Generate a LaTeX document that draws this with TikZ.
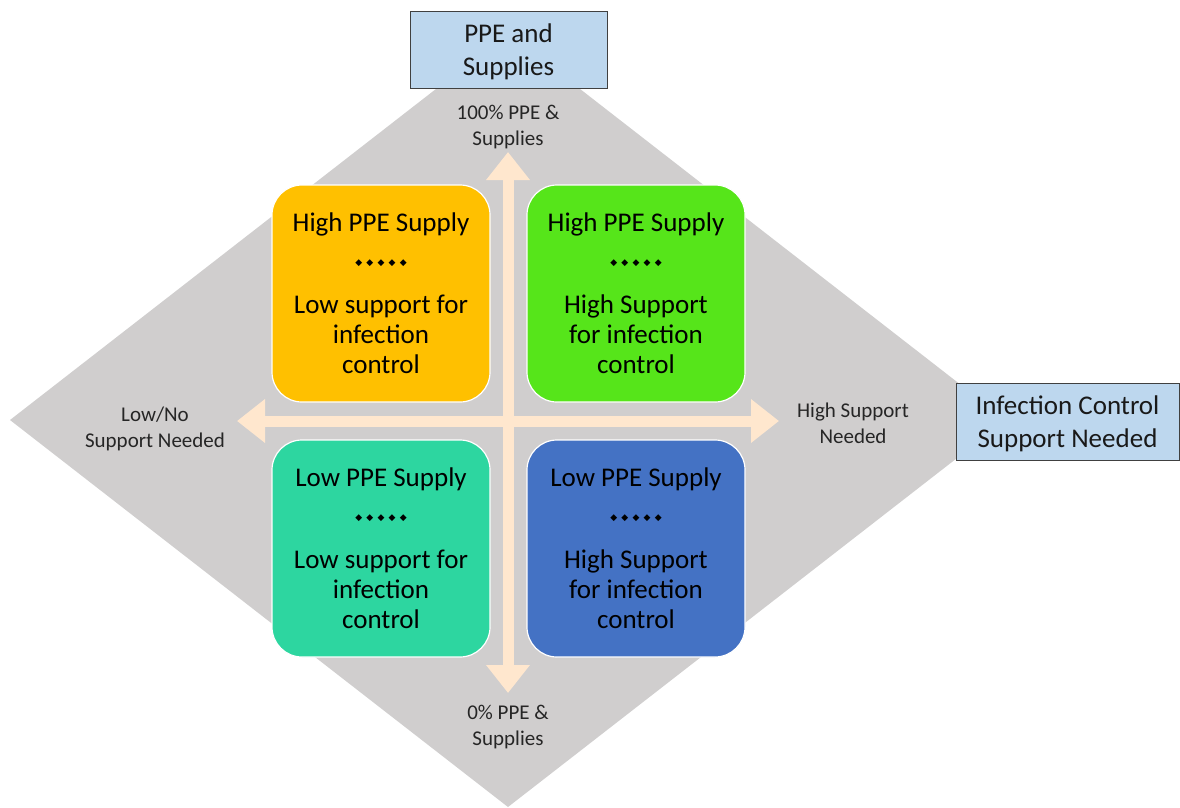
\documentclass[tikz,border=0pt]{standalone}
\usepackage{fontspec}
\setmainfont{Carlito}
\newfontfamily\symfont{DejaVu Sans}
\usetikzlibrary{arrows.meta}

\definecolor{diamondgrey}{HTML}{D0CECE}
\definecolor{axispeach}{HTML}{FFE7CE}
\definecolor{headblue}{HTML}{BDD7EE}
\definecolor{qorange}{HTML}{FFC000}
\definecolor{qgreen}{HTML}{56E51A}
\definecolor{qteal}{HTML}{2DD6A0}
\definecolor{qblue}{HTML}{4472C4}

% row of five small diamond separators
\newcommand\dotrow{{\symfont\fontsize{9}{9}\selectfont
  ◆\kern4.2pt◆\kern4.2pt◆\kern4.2pt◆\kern4.2pt◆}}
% two centred lines, set a little low in their box
\newcommand\twolines[2]{\raisebox{-3pt}[\height][\depth]{\begin{tabular}{@{}c@{}}#1\\#2\end{tabular}}}

\begin{document}
\begin{tikzpicture}[x=1pt,y=-1pt,
  quadbox/.style={rounded corners=30pt, draw=white, line width=1.2pt,
    minimum width=218pt, minimum height=217pt, inner sep=0pt,
    align=center, text=black, font=\fontsize{27}{30}\selectfont},
  headbox/.style={draw=black!75, line width=0.9pt, fill=headblue,
    align=center, inner sep=0pt, text=black!90,
    font=\fontsize{27}{33}\selectfont},
  axislabel/.style={align=center, text=black!85, inner sep=0pt,
    font=\fontsize{21}{26}\selectfont},
  axis/.style={draw=axispeach, line width=11pt,
    {Triangle[width=42pt,length=28pt]}-{Triangle[width=42pt,length=28pt]}}
]
\useasboundingbox (0,0) rectangle (1180,808);

% background diamond
\fill[diamondgrey] (508,33) -- (1006,420) -- (508,807) -- (10,420) -- cycle;

% axis end points
\coordinate (ytop) at (508,152);
\coordinate (ybot) at (508,693);
\coordinate (xleft) at (237,421);
\coordinate (xright) at (779,421);

% quadrants
\node[quadbox, fill=qorange] (hl) at (381,293.5)
  {High PPE Supply\\[4pt]\dotrow\\[18pt]Low support for\\infection\\control};
\node[quadbox, fill=qgreen] (hh) at (636,293.5)
  {High PPE Supply\\[4pt]\dotrow\\[18pt]High Support\\for infection\\control};
\node[quadbox, fill=qteal] (ll) at (381,548.5)
  {Low PPE Supply\\[4pt]\dotrow\\[18pt]Low support for\\infection\\control};
\node[quadbox, fill=qblue] (lh) at (636,548.5)
  {Low PPE Supply\\[4pt]\dotrow\\[18pt]High Support\\for infection\\control};

% axes
\draw[axis] (ybot) -- (ytop);
\draw[axis] (xleft) -- (xright);

% axis end labels
\node[axislabel] (ltop) at (508,127) {100\% PPE \&\\Supplies};
\node[axislabel] (lbot) at (508,727) {0\% PPE \&\\Supplies};
\node[axislabel] (lleft) at (155,429) {Low/No\\Support Needed};
\node[axislabel] (lright) at (853,423) {High Support\\Needed};

% axis titles
\node[headbox, minimum width=197pt, minimum height=77pt] (ppe) at (508.5,49.5)
  {\twolines{PPE and}{Supplies}};
\node[headbox, minimum width=223pt, minimum height=77pt] (ic) at (1067.5,421.5)
  {\twolines{Infection Control}{Support Needed}};
\end{tikzpicture}
\end{document}
